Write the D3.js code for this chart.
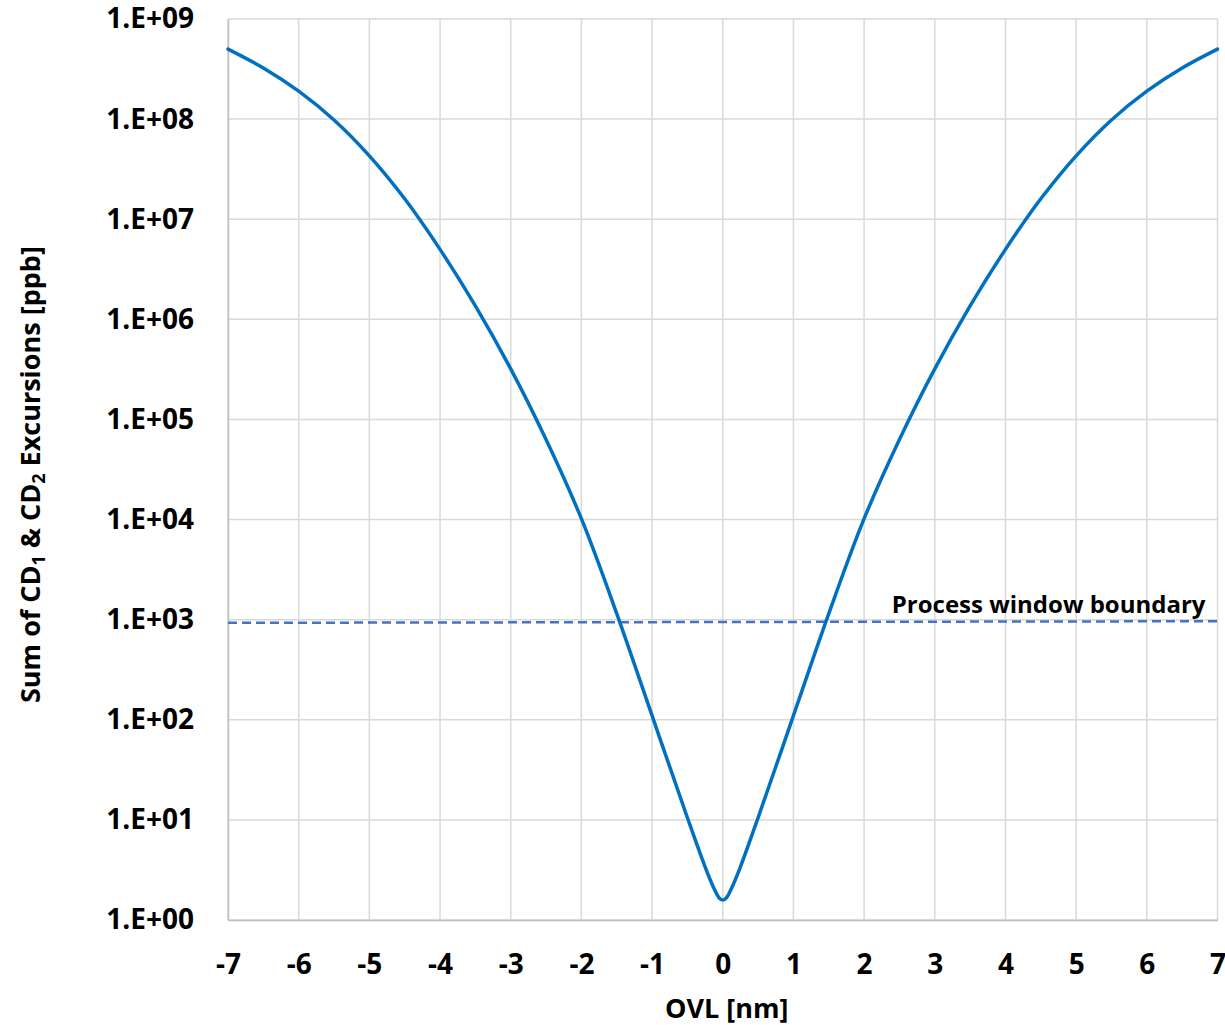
<!DOCTYPE html>
<html>
<head>
<meta charset="utf-8">
<script src="https://cdn.jsdelivr.net/npm/d3@7"></script>
<style>
  body { margin: 0; background: #fff; }
  text { font-family: "Open Sans", "Liberation Sans", sans-serif; font-weight: 700; fill: #000; }
</style>
</head>
<body>
<div class="svg-container"></div>
<script>
var width = 1225;
var height = 1025;

var padding = { "top": 19, "right": 7, "bottom": 105, "left": 228 };

// curve (OVL in nm, excursions in ppb)
var ovl = [-7, -6.5, -6, -5.5, -5, -4.5, -4, -3.5, -3, -2.5, -2, -1.5, -1, -0.5, -0.25, -0.12, -0.05, 0,
           0.05, 0.12, 0.25, 0.5, 1, 1.5, 2, 2.5, 3, 3.5, 4, 4.5, 5, 5.5, 6, 6.5, 7];
var excursions = [5.0e8, 3.24e8, 1.9e8, 9.8e7, 4.3e7, 1.6e7, 5.0e6, 1.36e6, 3.2e5, 6.3e4, 1.02e4, 1.15e3, 110, 10.5, 3.4, 2.04, 1.66, 1.58,
                  1.66, 2.04, 3.4, 10.5, 110, 1.15e3, 1.02e4, 6.3e4, 3.2e5, 1.36e6, 5.0e6, 1.6e7, 4.3e7, 9.8e7, 1.9e8, 3.24e8, 5.0e8];

// process window boundary (dashed)
var boundaryX = [-7, 7];
var boundaryY = [930, 965];

var xTicks = [-7, -6, -5, -4, -3, -2, -1, 0, 1, 2, 3, 4, 5, 6, 7];
var yTicks = [1e0, 1e1, 1e2, 1e3, 1e4, 1e5, 1e6, 1e7, 1e8, 1e9];
var yTickLabels = ["1.E+00", "1.E+01", "1.E+02", "1.E+03", "1.E+04", "1.E+05", "1.E+06", "1.E+07", "1.E+08", "1.E+09"];

var innerW = width - padding.left - padding.right;
var innerH = height - padding.top - padding.bottom;

var svg = d3.select(".svg-container")
              .append("svg")
              .attr("width", width)
              .attr("height", height)
              .append("g")
              .attr("transform", "translate(" + padding.left + "," + padding.top + ")");

var scaleX = d3.scaleLinear().domain([-7, 7]).range([0, innerW - 0.5]);
var scaleY = d3.scaleLog().domain([1, 1e9]).range([innerH, 0]);

// gridlines
svg.append("g")
    .attr("class", "grid")
    .selectAll("line")
    .data(xTicks)
    .enter()
    .append("line")
    .attr("x1", function(d) { return scaleX(d); })
    .attr("x2", function(d) { return scaleX(d); })
    .attr("y1", 0)
    .attr("y2", innerH)
    .attr("stroke", "#d9d9d9")
    .attr("stroke-width", 1.5);

svg.append("g")
    .attr("class", "grid")
    .selectAll("line")
    .data(yTicks)
    .enter()
    .append("line")
    .attr("x1", 0)
    .attr("x2", scaleX(7))
    .attr("y1", function(d) { return scaleY(d); })
    .attr("y2", function(d) { return scaleY(d); })
    .attr("stroke", "#d9d9d9")
    .attr("stroke-width", 1.5);

// axes
var xAxis = svg.append("g")
    .attr("transform", "translate(0," + innerH + ")")
    .call(d3.axisBottom(scaleX).tickValues(xTicks).tickSize(0).tickPadding(34)
          .tickFormat(function(d) { return String(d); }));
xAxis.select(".domain").attr("stroke", "#bfbfbf").attr("stroke-width", 1.5);
xAxis.selectAll("text").style("font-size", "28px").style("font-family", "'Open Sans', sans-serif").style("font-weight", 700);

var yAxis = svg.append("g")
    .call(d3.axisLeft(scaleY).tickValues(yTicks).tickSize(0).tickPadding(34)
          .tickFormat(function(d, i) { return yTickLabels[i]; }));
yAxis.select(".domain").attr("stroke", "#bfbfbf").attr("stroke-width", 1.5);
yAxis.selectAll("text").style("font-size", "28px").style("font-family", "'Open Sans', sans-serif").style("font-weight", 700);

// boundary line
svg.append("line")
    .attr("x1", scaleX(boundaryX[0]))
    .attr("x2", scaleX(boundaryX[1]))
    .attr("y1", scaleY(boundaryY[0]))
    .attr("y2", scaleY(boundaryY[1]))
    .attr("stroke", "#4472C4")
    .attr("stroke-width", 2.5)
    .attr("stroke-dasharray", "9,5");

svg.append("text")
    .attr("x", scaleX(7) - 12)
    .attr("y", scaleY(boundaryY[1]) - 8)
    .attr("text-anchor", "end")
    .style("font-size", "24px")
    .text("Process window boundary");

// curve
var line = d3.line()
    .x(function(d, i) { return scaleX(ovl[i]); })
    .y(function(d) { return scaleY(d); })
    .curve(d3.curveCatmullRom.alpha(0.5));

svg.append("path")
    .datum(excursions)
    .attr("fill", "none")
    .attr("stroke", "#0070C0")
    .attr("stroke-width", 3.5)
    .attr("stroke-linecap", "round")
    .attr("d", line);

// axis titles
svg.append("text")
    .attr("x", scaleX(0) + 4)
    .attr("y", innerH + 98)
    .attr("text-anchor", "middle")
    .style("font-size", "27px")
    .text("OVL [nm]");

var yTitle = svg.append("text")
    .attr("transform", "translate(" + (-188) + "," + (scaleY(1e4) - 45) + ") rotate(-90)")
    .attr("text-anchor", "middle")
    .style("font-size", "27px");
yTitle.append("tspan").text("Sum of CD");
yTitle.append("tspan").attr("baseline-shift", "-5").style("font-size", "18px").text("1");
yTitle.append("tspan").text(" & CD");
yTitle.append("tspan").attr("baseline-shift", "-5").style("font-size", "18px").text("2");
yTitle.append("tspan").text(" Excursions [ppb]");
</script>
</body>
</html>
